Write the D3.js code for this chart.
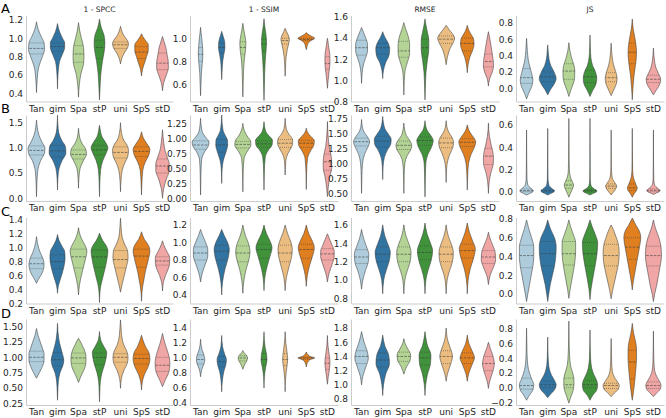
<!DOCTYPE html>
<html><head><meta charset="utf-8">
<script src="https://cdn.jsdelivr.net/npm/d3@7"></script>
<style>body{margin:0;background:#fff}svg{display:block}</style>
</head><body>
<svg id="chart" width="666" height="418"></svg>
<script>
const categories = ["Tan","gim","Spa","stP","uni","SpS","stD"];
const paletteHex = ["#a6cee3","#1f78b4","#b2df8a","#33a02c","#fdbf6f","#ff7f00","#fb9a99"];
const metrics = ["1 - SPCC","1 - SSIM","RMSE","JS"];
const rowLetters = ["A","B","C","D"];

// axis domains and tick values per panel (row letter + column number)
const domainA1=[0.313,1.248], ticksA1=[0.4,0.6,0.8,1.0,1.2];
const domainA2=[0.450,1.198], ticksA2=[0.6,0.8,1.0];
const domainA3=[0.805,1.612], ticksA3=[0.8,1.0,1.2,1.4,1.6];
const domainA4=[-0.161,0.888], ticksA4=[0.0,0.2,0.4,0.6,0.8];
const domainB1=[-0.054,1.653], ticksB1=[0.0,0.5,1.0,1.5];
const domainB2=[-0.033,1.40], ticksB2=[0.0,0.25,0.5,0.75,1.0,1.25];
const domainB3=[0.372,1.805], ticksB3=[0.5,0.75,1.0,1.25,1.5,1.75];
const domainB4=[-0.084,0.691], ticksB4=[0.0,0.2,0.4,0.6];
const domainC1=[0.197,1.436], ticksC1=[0.2,0.4,0.6,0.8,1.0,1.2,1.4];
const domainC2=[0.303,1.286], ticksC2=[0.4,0.6,0.8,1.0,1.2];
const domainC3=[0.744,1.68], ticksC3=[0.8,1.0,1.2,1.4,1.6];
const domainC4=[-0.101,0.816], ticksC4=[0.0,0.2,0.4,0.6,0.8];
const domainD1=[0.222,1.625], ticksD1=[0.25,0.5,0.75,1.0,1.25,1.5];
const domainD2=[0.373,1.52], ticksD2=[0.4,0.6,0.8,1.0,1.2,1.4];
const domainD3=[0.716,1.927], ticksD3=[0.8,1.0,1.2,1.4,1.6,1.8];
const domainD4=[-0.235,0.935], ticksD4=[-0.2,0.0,0.2,0.4,0.6,0.8];
const decimals = [[1,1,1,1],[1,2,2,1],[1,1,1,1],[2,1,1,1]];

// violins: [q1, median, q3, [[value, relative half-width], ...]]
const violinsA1=[
 [0.83,0.89,0.95,[[0.41,0],[0.55,0.08],[0.7,0.3],[0.8,0.7],[0.88,0.95],[0.95,0.9],[1.02,0.55],[1.1,0.2],[1.18,0]]],
 [0.86,0.91,0.95,[[0.45,0],[0.6,0.06],[0.75,0.25],[0.83,0.6],[0.9,0.85],[0.95,0.85],[1.0,0.6],[1.07,0.25],[1.16,0]]],
 [0.74,0.83,0.92,[[0.36,0],[0.5,0.1],[0.62,0.3],[0.72,0.6],[0.8,0.65],[0.9,0.6],[1.0,0.35],[1.08,0.15],[1.17,0]]],
 [0.78,0.9,0.98,[[0.33,0],[0.45,0.06],[0.6,0.15],[0.75,0.35],[0.85,0.55],[0.95,0.64],[1.03,0.55],[1.12,0.2],[1.21,0]]],
 [0.89,0.93,0.96,[[0.72,0],[0.78,0.15],[0.84,0.45],[0.9,0.85],[0.94,0.95],[0.98,0.8],[1.03,0.4],[1.08,0.15],[1.13,0]]],
 [0.78,0.85,0.91,[[0.59,0],[0.66,0.12],[0.73,0.35],[0.8,0.6],[0.87,0.8],[0.93,0.8],[0.98,0.45],[1.02,0.15],[1.05,0]]],
 [0.66,0.73,0.84,[[0.43,0],[0.52,0.15],[0.6,0.45],[0.68,0.7],[0.75,0.68],[0.82,0.55],[0.9,0.4],[0.96,0.2],[1.02,0]]]
];
const violinsA2=[
 [0.8,0.86,0.92,[[0.5,0],[0.6,0.05],[0.7,0.1],[0.78,0.2],[0.86,0.27],[0.94,0.22],[1.0,0.14],[1.05,0.06],[1.095,0]]],
 [0.87,0.92,0.96,[[0.64,0],[0.72,0.05],[0.8,0.12],[0.86,0.25],[0.92,0.38],[0.97,0.35],[1.01,0.2],[1.04,0.08],[1.06,0]]],
 [0.86,0.92,0.97,[[0.49,0],[0.6,0.04],[0.72,0.08],[0.82,0.18],[0.9,0.32],[0.96,0.36],[1.02,0.25],[1.08,0.1],[1.13,0]]],
 [0.89,0.95,0.99,[[0.46,0],[0.58,0.04],[0.7,0.08],[0.82,0.16],[0.9,0.25],[0.97,0.3],[1.04,0.22],[1.1,0.1],[1.17,0]]],
 [0.95,0.98,1.0,[[0.67,0],[0.76,0.05],[0.84,0.12],[0.9,0.25],[0.95,0.4],[0.99,0.5],[1.03,0.35],[1.06,0.15],[1.087,0]]],
 [0.98,0.99,1.0,[[0.9,0],[0.93,0.1],[0.96,0.25],[0.98,0.55],[1.0,1.0],[1.02,0.55],[1.035,0.2],[1.05,0]]],
 [0.73,0.78,0.84,[[0.565,0],[0.63,0.08],[0.7,0.18],[0.76,0.28],[0.82,0.3],[0.88,0.25],[0.94,0.12],[0.98,0.05],[1.0,0]]]
];
const violinsA3=[
 [1.24,1.31,1.38,[[0.975,0],[1.08,0.08],[1.16,0.25],[1.22,0.5],[1.28,0.7],[1.34,0.7],[1.4,0.5],[1.45,0.25],[1.5,0]]],
 [1.25,1.31,1.35,[[1.02,0],[1.1,0.1],[1.17,0.35],[1.24,0.75],[1.3,0.82],[1.36,0.6],[1.41,0.25],[1.46,0]]],
 [1.22,1.28,1.37,[[0.866,0],[1.0,0.05],[1.1,0.15],[1.18,0.45],[1.26,0.68],[1.34,0.68],[1.42,0.5],[1.49,0.2],[1.545,0]]],
 [1.22,1.31,1.39,[[0.82,0],[0.95,0.05],[1.08,0.12],[1.2,0.3],[1.3,0.45],[1.38,0.45],[1.45,0.3],[1.52,0.12],[1.58,0]]],
 [1.35,1.39,1.42,[[1.15,0],[1.22,0.15],[1.3,0.45],[1.36,0.85],[1.4,1.0],[1.44,0.75],[1.48,0.35],[1.52,0]]],
 [1.28,1.35,1.4,[[1.075,0],[1.15,0.1],[1.22,0.3],[1.28,0.6],[1.34,0.8],[1.39,0.75],[1.44,0.4],[1.48,0.15],[1.52,0]]],
 [1.13,1.18,1.25,[[0.95,0],[1.02,0.15],[1.08,0.45],[1.14,0.6],[1.2,0.55],[1.27,0.42],[1.33,0.3],[1.4,0.15],[1.46,0]]]
];
const violinsA4=[
 [0.06,0.13,0.24,[[-0.13,0],[-0.06,0.25],[0.02,0.6],[0.1,0.75],[0.18,0.6],[0.26,0.4],[0.35,0.2],[0.45,0.1],[0.61,0]]],
 [0.08,0.14,0.2,[[-0.08,0],[-0.02,0.3],[0.05,0.75],[0.12,1.0],[0.2,0.75],[0.28,0.35],[0.36,0.15],[0.45,0.06],[0.53,0]]],
 [0.11,0.21,0.3,[[-0.1,0],[-0.03,0.2],[0.05,0.5],[0.13,0.68],[0.22,0.7],[0.3,0.55],[0.38,0.3],[0.46,0.12],[0.556,0]]],
 [0.07,0.14,0.22,[[-0.1,0],[-0.03,0.3],[0.05,0.7],[0.12,0.8],[0.2,0.65],[0.28,0.3],[0.38,0.1],[0.5,0.04],[0.65,0]]],
 [0.08,0.13,0.19,[[-0.09,0],[-0.02,0.3],[0.05,0.6],[0.12,0.7],[0.2,0.55],[0.28,0.3],[0.36,0.15],[0.45,0.06],[0.55,0]]],
 [0.3,0.44,0.55,[[-0.14,0],[0.0,0.08],[0.15,0.2],[0.3,0.4],[0.42,0.5],[0.52,0.45],[0.62,0.3],[0.72,0.12],[0.845,0]]],
 [0.07,0.11,0.16,[[-0.08,0],[-0.02,0.35],[0.05,0.75],[0.11,0.85],[0.18,0.6],[0.25,0.3],[0.32,0.15],[0.4,0.06],[0.49,0]]]
];
const violinsB1=[
 [0.86,0.95,1.04,[[0.03,0],[0.3,0.05],[0.55,0.15],[0.75,0.5],[0.9,0.95],[1.0,1.0],[1.1,0.7],[1.25,0.3],[1.4,0.1],[1.55,0]]],
 [0.82,0.94,1.05,[[0.165,0],[0.4,0.05],[0.6,0.2],[0.75,0.55],[0.9,1.0],[1.02,0.95],[1.15,0.5],[1.3,0.15],[1.45,0.05],[1.65,0]]],
 [0.78,0.87,0.96,[[0.2,0],[0.4,0.05],[0.6,0.2],[0.75,0.6],[0.88,0.95],[0.98,0.85],[1.08,0.45],[1.2,0.15],[1.39,0]]],
 [0.86,0.96,1.05,[[0.03,0],[0.3,0.04],[0.55,0.12],[0.75,0.4],[0.9,0.8],[1.0,1.0],[1.1,0.75],[1.22,0.3],[1.35,0.1],[1.45,0]]],
 [0.8,0.91,1.02,[[0.13,0],[0.35,0.06],[0.55,0.2],[0.7,0.5],[0.82,0.85],[0.95,0.95],[1.05,0.8],[1.15,0.4],[1.3,0.12],[1.5,0]]],
 [0.83,0.93,1.02,[[0.065,0],[0.3,0.05],[0.55,0.15],[0.72,0.45],[0.85,0.85],[0.97,1.0],[1.07,0.7],[1.17,0.3],[1.32,0]]],
 [0.5,0.64,0.78,[[0.0,0],[0.2,0.15],[0.4,0.5],[0.55,0.8],[0.68,0.8],[0.8,0.6],[0.95,0.3],[1.1,0.15],[1.36,0]]]
];
const violinsB2=[
 [0.83,0.9,0.97,[[0.067,0],[0.4,0.04],[0.65,0.12],[0.78,0.45],[0.88,0.9],[0.95,1.0],[1.03,0.6],[1.12,0.2],[1.345,0]]],
 [0.78,0.9,0.99,[[0.26,0],[0.5,0.05],[0.65,0.2],[0.78,0.5],[0.9,0.7],[0.98,0.68],[1.05,0.45],[1.15,0.15],[1.4,0]]],
 [0.85,0.91,0.96,[[0.12,0],[0.45,0.04],[0.68,0.15],[0.8,0.55],[0.9,0.95],[0.97,0.9],[1.05,0.5],[1.15,0.15],[1.26,0]]],
 [0.86,0.92,0.97,[[0.15,0],[0.45,0.04],[0.7,0.15],[0.82,0.55],[0.9,0.95],[0.98,1.0],[1.05,0.6],[1.13,0.2],[1.29,0]]],
 [0.86,0.93,0.99,[[0.4,0],[0.6,0.06],[0.75,0.3],[0.85,0.7],[0.93,0.9],[1.0,0.85],[1.08,0.45],[1.18,0.12],[1.345,0]]],
 [0.86,0.93,0.98,[[0.16,0],[0.45,0.04],[0.68,0.15],[0.8,0.5],[0.9,0.9],[0.97,0.95],[1.04,0.55],[1.1,0.2],[1.18,0]]],
 [0.48,0.62,0.75,[[0.04,0],[0.2,0.1],[0.38,0.3],[0.52,0.5],[0.63,0.5],[0.75,0.4],[0.88,0.2],[1.05,0.08],[1.29,0]]]
];
const violinsB3=[
 [1.29,1.36,1.42,[[0.5,0],[0.8,0.04],[1.0,0.12],[1.15,0.35],[1.27,0.75],[1.36,0.95],[1.44,0.7],[1.52,0.3],[1.6,0.1],[1.73,0]]],
 [1.27,1.37,1.45,[[0.73,0],[0.95,0.05],[1.1,0.2],[1.22,0.55],[1.32,0.95],[1.4,1.0],[1.48,0.7],[1.58,0.25],[1.78,0]]],
 [1.23,1.3,1.37,[[0.5,0],[0.8,0.04],[1.0,0.12],[1.13,0.4],[1.22,0.8],[1.3,0.93],[1.38,0.7],[1.46,0.3],[1.56,0.1],[1.67,0]]],
 [1.3,1.38,1.44,[[0.44,0],[0.75,0.04],[1.0,0.1],[1.15,0.35],[1.28,0.8],[1.38,0.97],[1.46,0.7],[1.55,0.25],[1.71,0]]],
 [1.26,1.34,1.42,[[0.68,0],[0.9,0.05],[1.05,0.2],[1.17,0.5],[1.27,0.8],[1.35,0.88],[1.43,0.7],[1.52,0.3],[1.6,0.1],[1.71,0]]],
 [1.28,1.35,1.41,[[0.555,0],[0.8,0.05],[1.0,0.15],[1.15,0.45],[1.27,0.85],[1.36,1.0],[1.44,0.7],[1.52,0.3],[1.64,0]]],
 [0.98,1.12,1.25,[[0.5,0],[0.7,0.1],[0.85,0.3],[0.97,0.55],[1.08,0.6],[1.2,0.5],[1.32,0.3],[1.45,0.12],[1.67,0]]]
];
const violinsB4=[
 [0.0,0.01,0.025,[[-0.03,0],[-0.015,0.4],[0.0,0.75],[0.01,0.8],[0.025,0.6],[0.045,0.3],[0.07,0.12],[0.12,0.05],[0.25,0.02],[0.556,0]]],
 [0.0,0.01,0.025,[[-0.03,0],[-0.015,0.4],[0.0,0.75],[0.01,0.8],[0.025,0.55],[0.045,0.25],[0.07,0.1],[0.12,0.04],[0.25,0.02],[0.57,0]]],
 [0.03,0.06,0.1,[[-0.05,0],[-0.02,0.15],[0.02,0.4],[0.06,0.55],[0.1,0.35],[0.14,0.15],[0.2,0.06],[0.3,0.03],[0.45,0.02],[0.66,0]]],
 [0.0,0.01,0.02,[[-0.03,0],[-0.015,0.4],[0.0,0.78],[0.01,0.8],[0.025,0.5],[0.045,0.2],[0.07,0.08],[0.12,0.03],[0.3,0.015],[0.66,0]]],
 [0.03,0.05,0.07,[[-0.03,0],[-0.01,0.2],[0.02,0.5],[0.05,0.65],[0.08,0.45],[0.11,0.2],[0.15,0.08],[0.22,0.03],[0.35,0.015],[0.556,0]]],
 [0.01,0.035,0.07,[[-0.05,0],[-0.02,0.2],[0.01,0.5],[0.035,0.58],[0.06,0.45],[0.1,0.25],[0.14,0.1],[0.2,0.04],[0.35,0.015],[0.57,0]]],
 [0.0,0.012,0.025,[[-0.025,0],[-0.01,0.4],[0.0,0.7],[0.012,0.8],[0.025,0.6],[0.045,0.3],[0.07,0.1],[0.12,0.04],[0.25,0.015],[0.556,0]]]
];
const violinsC1=[
 [0.7,0.77,0.85,[[0.488,0],[0.55,0.25],[0.62,0.6],[0.7,0.85],[0.77,0.9],[0.85,0.75],[0.93,0.45],[1.0,0.25],[1.08,0.1],[1.16,0]]],
 [0.7,0.8,0.9,[[0.344,0],[0.45,0.1],[0.55,0.35],[0.65,0.6],[0.75,0.8],[0.85,0.9],[0.95,0.85],[1.02,0.55],[1.1,0.2],[1.19,0]]],
 [0.71,0.87,0.98,[[0.32,0],[0.45,0.1],[0.55,0.25],[0.65,0.45],[0.75,0.65],[0.85,0.85],[0.95,1.0],[1.03,0.8],[1.12,0.4],[1.2,0.15],[1.29,0]]],
 [0.72,0.87,0.97,[[0.21,0],[0.35,0.05],[0.45,0.15],[0.55,0.35],[0.65,0.55],[0.75,0.75],[0.85,0.9],[0.95,1.0],[1.03,0.8],[1.1,0.4],[1.21,0]]],
 [0.71,0.83,0.96,[[0.36,0],[0.45,0.15],[0.55,0.35],[0.65,0.55],[0.75,0.75],[0.85,0.9],[0.95,0.85],[1.05,0.5],[1.15,0.2],[1.28,0.08],[1.425,0]]],
 [0.72,0.88,0.98,[[0.23,0],[0.35,0.05],[0.45,0.15],[0.55,0.3],[0.65,0.45],[0.75,0.65],[0.85,0.85],[0.95,1.0],[1.03,0.85],[1.12,0.35],[1.23,0]]],
 [0.75,0.81,0.87,[[0.377,0],[0.5,0.1],[0.6,0.35],[0.7,0.7],[0.78,0.85],[0.86,0.85],[0.93,0.6],[1.0,0.3],[1.1,0]]]
];
const violinsC2=[
 [0.8,0.88,0.95,[[0.55,0],[0.65,0.2],[0.75,0.55],[0.85,0.85],[0.92,0.85],[1.0,0.6],[1.08,0.25],[1.15,0]]],
 [0.8,0.9,0.97,[[0.4,0],[0.55,0.1],[0.7,0.4],[0.82,0.75],[0.92,0.9],[1.0,0.7],[1.08,0.3],[1.15,0]]],
 [0.78,0.88,0.96,[[0.42,0],[0.55,0.1],[0.7,0.4],[0.82,0.75],[0.9,0.85],[0.98,0.7],[1.08,0.3],[1.2,0]]],
 [0.82,0.92,0.98,[[0.45,0],[0.6,0.1],[0.72,0.35],[0.84,0.7],[0.94,0.95],[1.02,0.7],[1.1,0.3],[1.2,0]]],
 [0.78,0.88,0.97,[[0.45,0],[0.6,0.15],[0.72,0.45],[0.83,0.75],[0.92,0.85],[1.0,0.7],[1.1,0.3],[1.2,0]]],
 [0.82,0.92,0.98,[[0.5,0],[0.62,0.12],[0.74,0.4],[0.85,0.75],[0.94,0.95],[1.02,0.7],[1.1,0.3],[1.2,0]]],
 [0.8,0.87,0.93,[[0.55,0],[0.65,0.2],[0.75,0.55],[0.84,0.8],[0.9,0.8],[0.97,0.55],[1.04,0.25],[1.1,0]]]
];
const violinsC3=[
 [1.18,1.25,1.33,[[0.9,0],[1.0,0.15],[1.1,0.45],[1.2,0.8],[1.28,0.85],[1.36,0.6],[1.45,0.25],[1.55,0]]],
 [1.2,1.28,1.36,[[0.85,0],[1.0,0.12],[1.1,0.4],[1.2,0.75],[1.3,0.9],[1.38,0.65],[1.48,0.25],[1.6,0]]],
 [1.2,1.28,1.36,[[0.85,0],[1.0,0.12],[1.1,0.4],[1.2,0.75],[1.3,0.85],[1.38,0.65],[1.48,0.25],[1.6,0]]],
 [1.22,1.3,1.37,[[0.85,0],[1.0,0.1],[1.1,0.35],[1.22,0.75],[1.32,0.9],[1.4,0.65],[1.5,0.25],[1.62,0]]],
 [1.2,1.28,1.36,[[0.85,0],[1.0,0.12],[1.1,0.4],[1.2,0.75],[1.3,0.85],[1.38,0.65],[1.48,0.25],[1.6,0]]],
 [1.24,1.32,1.39,[[0.85,0],[1.0,0.1],[1.12,0.35],[1.24,0.75],[1.34,0.95],[1.42,0.65],[1.52,0.25],[1.62,0]]],
 [1.18,1.25,1.32,[[0.95,0],[1.05,0.2],[1.13,0.55],[1.22,0.85],[1.3,0.8],[1.38,0.5],[1.45,0.2],[1.52,0]]]
];
const violinsC4=[
 [0.28,0.41,0.52,[[-0.08,0],[0.0,0.15],[0.1,0.35],[0.2,0.55],[0.3,0.75],[0.4,0.85],[0.5,0.85],[0.6,0.6],[0.7,0.25],[0.79,0]]],
 [0.3,0.43,0.56,[[-0.08,0],[0.0,0.12],[0.1,0.3],[0.2,0.55],[0.3,0.8],[0.4,0.95],[0.5,1.0],[0.6,0.8],[0.7,0.3],[0.79,0]]],
 [0.31,0.43,0.56,[[-0.046,0],[0.05,0.15],[0.15,0.35],[0.25,0.55],[0.35,0.72],[0.45,0.8],[0.55,0.8],[0.63,0.55],[0.72,0.2],[0.79,0]]],
 [0.3,0.43,0.55,[[-0.06,0],[0.05,0.12],[0.15,0.3],[0.25,0.5],[0.35,0.7],[0.45,0.85],[0.55,0.9],[0.63,0.65],[0.72,0.25],[0.79,0]]],
 [0.3,0.41,0.53,[[-0.05,0],[0.05,0.2],[0.15,0.45],[0.25,0.7],[0.35,0.9],[0.45,0.95],[0.55,0.8],[0.63,0.5],[0.7,0.2],[0.736,0]]],
 [0.37,0.5,0.6,[[0.043,0],[0.12,0.1],[0.2,0.25],[0.3,0.45],[0.4,0.65],[0.5,0.85],[0.6,1.0],[0.67,0.85],[0.74,0.4],[0.81,0]]],
 [0.3,0.41,0.51,[[-0.08,0],[0.0,0.15],[0.1,0.4],[0.2,0.6],[0.3,0.8],[0.4,0.95],[0.5,0.9],[0.6,0.65],[0.7,0.25],[0.79,0]]]
];
const violinsD1=[
 [0.93,1.0,1.1,[[0.658,0],[0.75,0.35],[0.85,0.7],[0.95,0.9],[1.05,0.9],[1.15,0.7],[1.25,0.45],[1.35,0.2],[1.47,0]]],
 [0.86,0.96,1.08,[[0.3,0],[0.45,0.04],[0.6,0.1],[0.75,0.3],[0.85,0.6],[0.95,0.75],[1.05,0.6],[1.15,0.4],[1.3,0.15],[1.555,0]]],
 [0.9,0.99,1.07,[[0.59,0],[0.68,0.25],[0.78,0.6],[0.88,0.85],[0.98,0.9],[1.08,0.8],[1.18,0.5],[1.25,0.25],[1.31,0]]],
 [0.88,1.0,1.07,[[0.275,0],[0.45,0.04],[0.6,0.1],[0.75,0.3],[0.88,0.6],[1.0,0.8],[1.08,0.85],[1.18,0.5],[1.28,0.15],[1.42,0]]],
 [0.92,1.0,1.06,[[0.495,0],[0.65,0.1],[0.8,0.45],[0.9,0.8],[1.0,0.9],[1.1,0.75],[1.2,0.4],[1.3,0.2],[1.45,0.08],[1.61,0]]],
 [0.89,0.98,1.05,[[0.467,0],[0.6,0.1],[0.72,0.35],[0.85,0.8],[0.97,1.0],[1.07,0.9],[1.17,0.5],[1.27,0.2],[1.36,0]]],
 [0.77,0.87,1.0,[[0.52,0],[0.62,0.3],[0.72,0.65],[0.82,0.85],[0.9,0.88],[1.0,0.8],[1.1,0.6],[1.2,0.35],[1.3,0.15],[1.39,0]]]
];
const violinsD2=[
 [0.92,0.98,1.04,[[0.75,0],[0.85,0.15],[0.92,0.4],[0.98,0.5],[1.04,0.4],[1.12,0.15],[1.25,0]]],
 [0.88,0.95,1.02,[[0.55,0],[0.7,0.08],[0.82,0.25],[0.92,0.5],[0.98,0.55],[1.05,0.35],[1.15,0.1],[1.3,0]]],
 [0.96,1.0,1.03,[[0.85,0],[0.92,0.25],[0.97,0.5],[1.0,0.55],[1.04,0.4],[1.07,0.15],[1.1,0]]],
 [0.9,0.98,1.06,[[0.6,0],[0.75,0.05],[0.88,0.2],[0.97,0.35],[1.05,0.3],[1.15,0.12],[1.35,0]]],
 [0.9,0.98,1.06,[[0.55,0],[0.72,0.05],[0.86,0.18],[0.98,0.3],[1.08,0.22],[1.2,0.08],[1.35,0]]],
 [0.98,1.0,1.01,[[0.88,0],[0.94,0.15],[0.98,0.5],[1.0,1.0],[1.02,0.5],[1.05,0.15],[1.08,0]]],
 [0.85,0.93,1.0,[[0.65,0],[0.75,0.1],[0.86,0.25],[0.95,0.3],[1.05,0.2],[1.15,0.08],[1.3,0]]]
];
const violinsD3=[
 [1.3,1.4,1.48,[[1.0,0],[1.12,0.15],[1.25,0.5],[1.38,0.8],[1.48,0.65],[1.6,0.3],[1.75,0]]],
 [1.25,1.35,1.45,[[0.85,0],[1.0,0.1],[1.15,0.35],[1.3,0.8],[1.42,0.7],[1.55,0.25],[1.7,0]]],
 [1.33,1.4,1.46,[[1.15,0],[1.25,0.3],[1.35,0.75],[1.42,0.8],[1.5,0.5],[1.58,0.15],[1.65,0]]],
 [1.28,1.38,1.46,[[0.85,0],[1.0,0.08],[1.15,0.3],[1.3,0.65],[1.42,0.7],[1.55,0.3],[1.75,0]]],
 [1.3,1.4,1.48,[[1.05,0],[1.15,0.15],[1.28,0.5],[1.4,0.75],[1.5,0.55],[1.62,0.2],[1.8,0]]],
 [1.3,1.38,1.45,[[1.05,0],[1.15,0.15],[1.28,0.55],[1.38,0.85],[1.47,0.6],[1.58,0.2],[1.7,0]]],
 [1.2,1.3,1.4,[[0.95,0],[1.05,0.15],[1.18,0.5],[1.3,0.7],[1.42,0.5],[1.52,0.2],[1.6,0]]]
];
const violinsD4=[
 [-0.02,0.03,0.13,[[-0.17,0],[-0.1,0.35],[-0.03,0.75],[0.04,0.85],[0.12,0.6],[0.2,0.35],[0.3,0.15],[0.45,0.06],[0.6,0.03],[0.81,0]]],
 [0.0,0.04,0.09,[[-0.136,0],[-0.08,0.4],[-0.02,0.85],[0.04,1.0],[0.1,0.8],[0.17,0.45],[0.25,0.2],[0.35,0.08],[0.5,0.03],[0.69,0]]],
 [0.0,0.04,0.13,[[-0.21,0],[-0.12,0.25],[-0.04,0.5],[0.04,0.6],[0.12,0.6],[0.2,0.45],[0.3,0.2],[0.45,0.08],[0.65,0.03],[0.907,0]]],
 [0.0,0.04,0.1,[[-0.17,0],[-0.1,0.35],[-0.03,0.8],[0.04,0.9],[0.11,0.75],[0.18,0.45],[0.27,0.2],[0.4,0.07],[0.6,0.02],[0.785,0]]],
 [-0.01,0.03,0.06,[[-0.122,0],[-0.07,0.4],[-0.02,0.85],[0.03,0.95],[0.08,0.75],[0.14,0.4],[0.22,0.15],[0.35,0.06],[0.5,0.03],[0.67,0]]],
 [0.12,0.35,0.51,[[-0.17,0],[-0.05,0.15],[0.1,0.3],[0.25,0.42],[0.4,0.5],[0.52,0.5],[0.62,0.4],[0.72,0.2],[0.8,0.08],[0.876,0]]],
 [-0.01,0.03,0.08,[[-0.122,0],[-0.07,0.4],[-0.02,0.8],[0.03,0.9],[0.09,0.7],[0.15,0.4],[0.23,0.15],[0.35,0.06],[0.55,0.02],[0.77,0]]]
];

const panelDomains=[[domainA1,domainA2,domainA3,domainA4],[domainB1,domainB2,domainB3,domainB4],[domainC1,domainC2,domainC3,domainC4],[domainD1,domainD2,domainD3,domainD4]];
const panelTicks=[[ticksA1,ticksA2,ticksA3,ticksA4],[ticksB1,ticksB2,ticksB3,ticksB4],[ticksC1,ticksC2,ticksC3,ticksC4],[ticksD1,ticksD2,ticksD3,ticksD4]];
const panelViolins=[[violinsA1,violinsA2,violinsA3,violinsA4],[violinsB1,violinsB2,violinsB3,violinsB4],[violinsC1,violinsC2,violinsC3,violinsC4],[violinsD1,violinsD2,violinsD3,violinsD4]];

// layout
const rowY=[[15.5,101.5],[115,201],[217.5,303.5],[319,405]];
const colX=[[26,173],[190,338],[351,499],[516,664]];
const letterY=[12.5,112.5,215.5,318];
const FONT="DejaVu Sans";
const TXT="#262626";
const EDGE="#3d3d3d";
const SPINE="#cccccc";

const fills=paletteHex.map(h=>{const c=d3.hsl(h);c.s*=0.75;return c.formatHex();});
const svg=d3.select("#chart");
const defs=svg.append("defs");

for(let r=0;r<4;r++){
 for(let c=0;c<4;c++){
  const [x0,x1]=colX[c],[y0,y1]=rowY[r];
  const x=d3.scaleBand().domain(categories).range([x0,x1]);
  const y=d3.scaleLinear().domain(panelDomains[r][c]).range([y1,y0]);
  const g=svg.append("g");
  const pid=`plot${r}${c}`;
  defs.append("clipPath").attr("id",pid).append("rect").attr("x",x0).attr("y",y0-2).attr("width",x1-x0).attr("height",y1-y0+2);
  const vg=g.append("g").attr("clip-path",`url(#${pid})`);
  const hw=x.bandwidth()*0.4;
  panelViolins[r][c].forEach((v,i)=>{
    const cx=x(categories[i])+x.bandwidth()/2;
    const area=d3.area().curve(d3.curveMonotoneY)
      .y(d=>y(d[0])).x0(d=>cx-d[1]*hw).x1(d=>cx+d[1]*hw);
    const dp=area(v[3]);
    const vid=`v${r}${c}${i}`;
    defs.append("clipPath").attr("id",vid).append("path").attr("d",dp);
    vg.append("path").attr("d",dp).attr("fill",fills[i]);
    const lg=vg.append("g").attr("clip-path",`url(#${vid})`);
    [0,1,2].forEach(k=>{
      lg.append("line").attr("x1",cx-hw*1.3).attr("x2",cx+hw*1.3)
        .attr("y1",y(v[k])).attr("y2",y(v[k]))
        .attr("stroke",EDGE).attr("stroke-width",0.6)
        .attr("stroke-dasharray",k===1?"2.6,1.2":"0.8,1.2");
    });
    vg.append("path").attr("d",dp).attr("fill","none").attr("stroke",EDGE).attr("stroke-width",0.55);
  });
  const dec=decimals[r][c];
  const fmt=d=>d3.format(`.${dec}f`)(d).replace("-","\u2212");
  const ya=g.append("g").attr("transform",`translate(${x0},0)`)
    .call(d3.axisLeft(y).tickValues(panelTicks[r][c]).tickFormat(fmt).tickSize(0).tickSizeOuter(0).tickPadding(3));
  const xa=g.append("g").attr("transform",`translate(0,${y1})`)
    .call(d3.axisBottom(x).tickSize(0).tickSizeOuter(0).tickPadding(4));
  [ya,xa].forEach(a=>{
    a.attr("font-family",FONT).attr("font-size",9);
    a.select(".domain").attr("stroke",SPINE).attr("stroke-width",1);
    a.selectAll("text").attr("fill",TXT);
  });
  if(r===0){
    g.append("text").attr("x",(x0+x1)/2).attr("y",y0-4).attr("text-anchor","middle")
     .attr("font-family",FONT).attr("font-size",7.5).attr("fill",TXT).text(metrics[c]);
  }
 }
 svg.append("text").attr("x",1).attr("y",letterY[r]).attr("font-family",FONT)
   .attr("font-size",13).attr("fill","#000").text(rowLetters[r]);
}
</script>
</body></html>
